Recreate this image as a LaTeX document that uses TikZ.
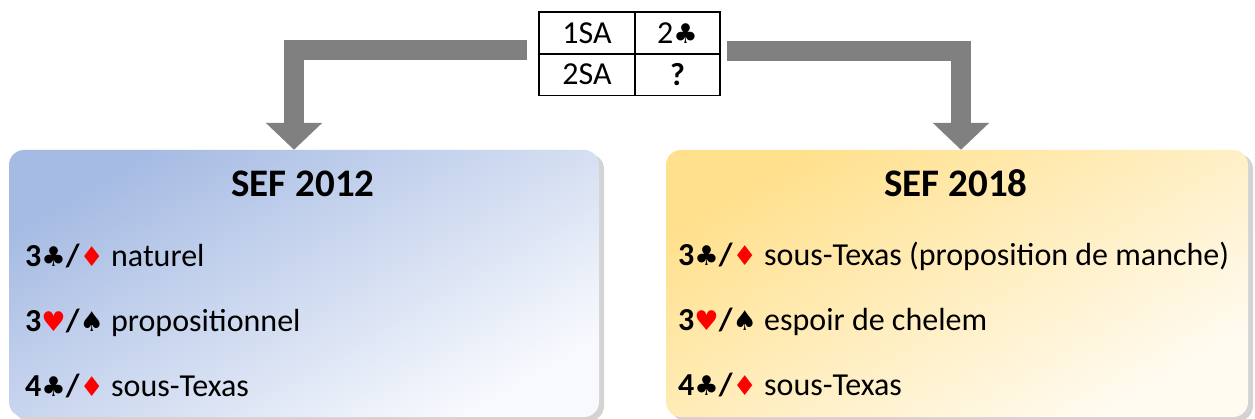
\documentclass[tikz,border=0pt]{standalone}
\usepackage{fontspec}
\setmainfont{Carlito}
\newfontfamily\suitfont[Scale=0.85]{DejaVu Sans}
\usetikzlibrary{arrows.meta,shadows,calc,positioning}

\definecolor{bleuA}{RGB}{166,187,227}
\definecolor{bleuB}{RGB}{247,249,253}
\definecolor{jauneA}{RGB}{255,224,140}
\definecolor{jauneB}{RGB}{255,251,241}
\definecolor{gris}{RGB}{128,128,128}
\definecolor{rouge}{RGB}{255,0,0}

\newcommand{\trefle}{{\suitfont ♣}}
\newcommand{\pique}{{\suitfont ♠}}
\newcommand{\carreau}{{\color{rouge}\suitfont ♦}}
\newcommand{\coeur}{{\color{rouge}\suitfont ♥}}

\begin{document}
\begin{tikzpicture}[x=1pt,y=-1pt]
\tikzstyle{every node}+=[inner sep=0pt]
\tikzstyle{cell}=[draw, line width=1.5pt, minimum height=42pt, font=\fontsize{32}{38}\selectfont]
\tikzstyle{box}=[rounded corners=15pt, minimum height=267pt, drop shadow={shadow xshift=5pt, shadow yshift=-4pt, opacity=0.35}]
\tikzstyle{titre}=[anchor=base, font=\fontsize{39}{46}\selectfont\bfseries]
\tikzstyle{ligne}=[anchor=base west, font=\fontsize{32}{38}\selectfont]
\tikzstyle{fleche}=[draw=gris, line width=20pt, -{Triangle[length=27pt,width=55pt]}]
\useasboundingbox (0,0) rectangle (1255,419);
% les deux systemes
\node[box, minimum width=590pt, top color=bleuA, bottom color=bleuB, shading angle=30] (b2012) at (304,283.5) {};
\node[box, minimum width=582pt, top color=jauneA, bottom color=jauneB, shading angle=30] (b2018) at (957,283.5) {};
% la sequence
\node[cell, minimum width=96pt] (c11) at (587,33) {1SA};
\node[cell, minimum width=85pt] (c12) at (677.5,33) {2\trefle};
\node[cell, minimum width=96pt] (c21) at (587,74.5) {2SA};
\node[cell, minimum width=85pt] (c22) at (677.5,74.5) {\textbf{?}};
% fleches
\coordinate (depG) at (527,50);
\coordinate (depD) at (727,51);
\draw[fleche] (depG) -| ($(b2012.north)+(-10,0)$);
\draw[fleche] (depD) -| ($(b2018.north)+(4,0)$);
% SEF 2012
\node[titre] (t2012) at (303,196.7) {SEF 2012};
\node[ligne] (g1) at (25,266.7) {\textbf{3\trefle/\carreau} naturel};
\node[ligne] (g2) at (25,331.7) {\textbf{3\coeur/\pique} propositionnel};
\node[ligne] (g3) at (25,396.7) {\textbf{4\trefle/\carreau} sous-Texas};
% SEF 2018
\node[titre] (t2018) at (956,196.7) {SEF 2018};
\node[ligne] (d1) at (678,265.7) {\textbf{3\trefle/\carreau} sous-Texas (proposition de manche)};
\node[ligne] (d2) at (678,330.7) {\textbf{3\coeur/\pique} espoir de chelem};
\node[ligne] (d3) at (678,395.7) {\textbf{4\trefle/\carreau} sous-Texas};
\end{tikzpicture}
\end{document}
